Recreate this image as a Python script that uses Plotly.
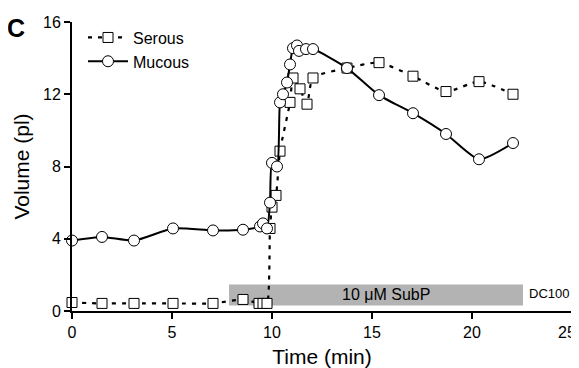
import plotly.graph_objects as go

# Serous cells (squares, dotted line)
serous_t = [0, 1.5, 3.1, 5.05, 7.05, 8.55, 9.35, 9.55, 9.75, 9.9, 10.0, 10.2, 10.4,
            10.9, 11.05, 11.4, 11.75, 12.05, 13.75, 15.35, 17.05, 18.7, 20.35, 22.05]
serous_v = [0.47, 0.42, 0.42, 0.42, 0.42, 0.64, 0.42, 0.42, 0.42, 4.57, 5.75, 6.4, 8.85,
            11.55, 12.9, 12.3, 11.45, 12.9, 13.45, 13.75, 13.0, 12.15, 12.7, 12.0]

# Mucous cells (circles, solid line)
mucous_t = [0, 1.5, 3.1, 5.05, 7.05, 8.55, 9.4, 9.55, 9.75, 9.9, 10.0, 10.25, 10.4,
            10.55, 10.75, 10.9, 11.05, 11.25, 11.35, 11.7, 12.05, 13.75, 15.35, 17.05,
            18.7, 20.35, 22.05]
mucous_v = [3.9, 4.1, 3.9, 4.57, 4.46, 4.5, 4.68, 4.85, 4.57, 6.0, 8.2, 8.0, 11.55,
            12.0, 12.65, 13.65, 14.55, 14.7, 14.4, 14.5, 14.5, 13.45, 11.95, 10.95,
            9.8, 8.4, 9.3]

# Substance P application period
subp_start, subp_end = 7.85, 22.55
subp_label = "10 \u03bcM SubP"

x_ticks = [0, 5, 10, 15, 20, 25]
x_tick_labels = ["0", "5", "10", "15", "20", "25"]
y_ticks = [0, 4, 8, 12, 16]

FONT = "Liberation Sans, Arial, sans-serif"

fig = go.Figure()

fig.add_shape(type="rect", xref="x", yref="y", x0=subp_start, x1=subp_end, y0=0.3, y1=1.47,
              fillcolor="#b3b3b3", line=dict(width=0), layer="below")

fig.add_trace(go.Scatter(
    x=serous_t, y=serous_v, mode="lines+markers", name="Serous",
    line=dict(color="black", width=2.2, dash="4px,6px", shape="spline", smoothing=0.6),
    marker=dict(symbol="square", size=10, color="white", line=dict(color="black", width=1)),
    cliponaxis=False))

fig.add_trace(go.Scatter(
    x=mucous_t, y=mucous_v, mode="lines+markers", name="Mucous",
    line=dict(color="black", width=2, shape="spline", smoothing=0.6),
    marker=dict(symbol="circle", size=11, color="white", line=dict(color="black", width=1)),
    cliponaxis=False))

fig.add_annotation(x=(subp_start + subp_end) / 2 + 0.5, y=0.9, xref="x", yref="y",
                   text=subp_label, showarrow=False,
                   font=dict(family=FONT, size=16, color="black"))
fig.add_annotation(x=subp_end + 0.2, y=0.95, xref="x", yref="y", xanchor="left",
                   text="DC100", showarrow=False,
                   font=dict(family=FONT, size=13, color="black"))
fig.add_annotation(x=-0.134, y=0.979, xref="paper", yref="paper", xanchor="left", yanchor="middle",
                   text="<b>C</b>", showarrow=False,
                   font=dict(family=FONT, size=25, color="black"))
# last x tick label sits at the right edge of the page; drawn right-anchored so it stays visible
fig.add_annotation(x=1.012, y=0, xref="paper", yref="paper", xanchor="right", yanchor="middle",
                   yshift=-21, text=x_tick_labels[-1], showarrow=False,
                   font=dict(family=FONT, size=16, color="black"))

# the page body adds an 8px offset, so the figure is sized to fit the window
fig.update_layout(
    width=571, height=360,
    margin=dict(l=64, r=7, t=14, b=57, autoexpand=False),
    paper_bgcolor="white", plot_bgcolor="white",
    font=dict(family=FONT, color="black", size=16),
    showlegend=True,
    legend=dict(x=0.022, y=1.005, xanchor="left", yanchor="top",
                bgcolor="rgba(0,0,0,0)", font=dict(size=16), tracegroupgap=0,
                itemwidth=40),
    xaxis=dict(range=[0, 25], tickvals=x_ticks, ticktext=x_tick_labels[:-1] + [""],
               showgrid=False, zeroline=False,
               showline=True, linecolor="black", linewidth=2, automargin=False,
               ticks="outside", ticklen=6, tickwidth=2, tickcolor="black",
               tickfont=dict(size=16),
               title=dict(text="Time (min)", font=dict(size=21), standoff=10)),
    yaxis=dict(range=[0, 16], tickvals=y_ticks, showgrid=False, zeroline=False,
               showline=True, linecolor="black", linewidth=2, automargin=False,
               ticks="outside", ticklen=6, tickwidth=2, tickcolor="black",
               tickfont=dict(size=16),
               title=dict(text="Volume (pl)", font=dict(size=21), standoff=8)),
)

fig.write_html("out.html")
